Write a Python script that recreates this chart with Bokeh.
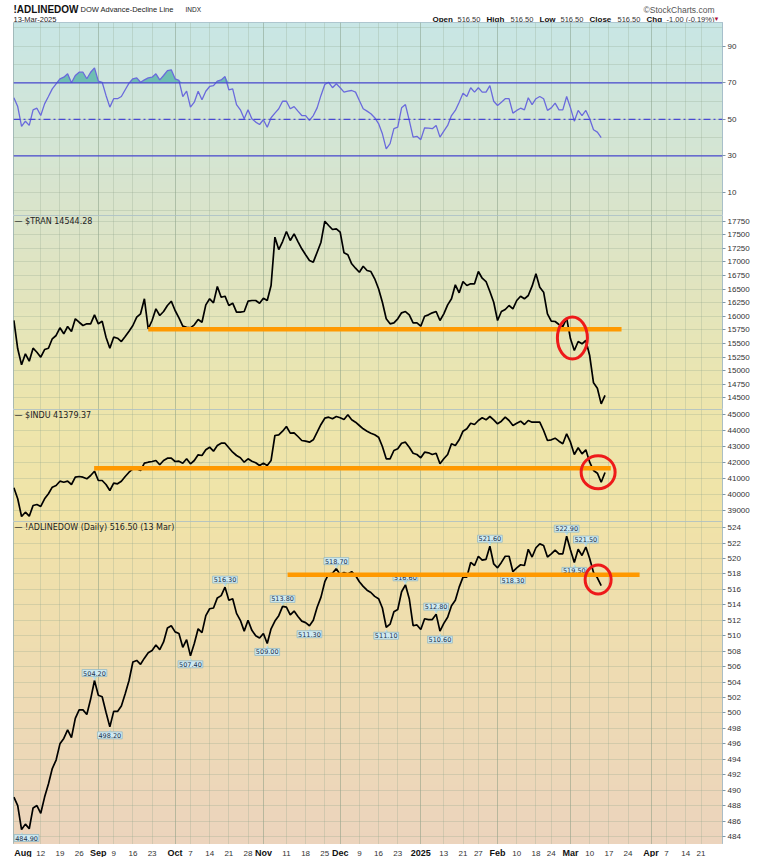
import numpy as np
import pandas as pd
from bokeh.plotting import figure
from bokeh.layouts import column
from bokeh.models import Range1d, FixedTicker, Label, ColumnDataSource, Grid, Span
from bokeh.core.properties import value
from bokeh.embed import file_html
from bokeh.resources import INLINE

# ---------------- calendar / ticks ----------------
holidays = ["2024-09-02", "2024-11-28", "2024-12-25", "2025-01-01", "2025-01-09",
            "2025-01-20", "2025-02-17", "2025-04-18"]
tick_dates = ["2024-08-01", "2024-08-12", "2024-08-19", "2024-08-26", "2024-09-03", "2024-09-09",
              "2024-09-16", "2024-09-23", "2024-10-01", "2024-10-07", "2024-10-14", "2024-10-21",
              "2024-10-28", "2024-11-01", "2024-11-11", "2024-11-18", "2024-11-25", "2024-12-02",
              "2024-12-09", "2024-12-16", "2024-12-23", "2025-01-02", "2025-01-13", "2025-01-21",
              "2025-01-27", "2025-02-03", "2025-02-10", "2025-02-18", "2025-02-24", "2025-03-03",
              "2025-03-10", "2025-03-17", "2025-03-24", "2025-04-01", "2025-04-07", "2025-04-14",
              "2025-04-21"]
tick_labels = ["Aug", "12", "19", "26", "Sep", "9", "16", "23", "Oct", "7", "14", "21", "28",
               "Nov", "11", "18", "25", "Dec", "9", "16", "23", "2025", "13", "21", "27",
               "Feb", "10", "18", "24", "Mar", "10", "17", "24", "Apr", "7", "14", "21"]
tick_is_month = [lab in ("Aug", "Sep", "Oct", "Nov", "Dec", "2025", "Feb", "Mar", "Apr") for lab in tick_labels]

# ---------------- series (daily, from 1 Aug 2024) ----------------
adl = [489.1, 488.0, 484.9, 485.6, 485.0, 487.7, 488.0, 487.0, 489.1, 490.8,
       492.8, 493.9, 496.0, 496.7, 497.8, 496.8, 499.3, 500.4, 500.4, 499.8,
       501.8, 504.2, 502.3, 502.1, 500.1, 498.2, 500.2, 500.2, 500.9, 502.5,
       504.2, 506.6, 506.8, 506.3, 507.1, 507.8, 508.1, 508.8, 508.2, 509.2,
       511.0, 511.3, 510.5, 510.3, 508.5, 509.5, 507.4, 509.0, 510.9, 510.4,
       512.6, 513.5, 513.6, 514.9, 515.2, 516.3, 514.6, 514.8, 512.9, 512.0,
       510.6, 512.0, 510.7, 510.0, 509.7, 510.3, 509.0, 510.9, 511.9, 512.6,
       513.8, 513.7, 512.7, 513.2, 512.5, 511.9, 511.7, 511.3, 512.0, 513.7,
       515.0, 517.0, 518.0, 518.1, 518.7, 517.9, 518.2, 518.0, 518.3, 517.8,
       517.0, 516.4, 515.9, 515.6, 515.1, 514.8, 513.6, 511.1, 511.5, 513.1,
       513.4, 515.7, 516.6, 514.8, 511.3, 511.4, 510.8, 512.2, 512.1, 512.1,
       512.8, 510.6, 511.6, 512.4, 513.9, 514.6, 516.3, 517.6, 517.6, 519.5,
       519.1, 520.3, 519.8, 519.9, 521.6, 519.3, 518.8, 519.5, 520.3, 520.3,
       518.3, 518.8, 519.2, 519.1, 521.2, 520.2, 521.4, 521.9, 521.7, 520.2,
       520.6, 521.1, 520.6, 520.6, 522.9, 521.1, 519.5, 521.2, 520.4, 521.5,
       520.0, 518.2, 517.5, 516.5]

tran = [15923, 15402, 15107, 15310, 15174, 15413, 15339, 15247, 15389, 15413,
        15586, 15647, 15788, 15678, 15812, 15720, 15954, 15891, 15831, 15862,
        15862, 16027, 15862, 15910, 15616, 15413, 15616, 15597, 15536, 15628,
        15726, 15831, 15983, 16046, 16322, 15770, 15923, 16138, 16015, 16088,
        16199, 16278, 16107, 15972, 15818, 15799, 15788, 15843, 15941, 15891,
        16211, 16322, 16248, 16548, 16351, 16370, 16199, 16241, 16076, 16076,
        16088, 16278, 16291, 16291, 16241, 16333, 16291, 16567, 17456, 17229,
        17376, 17560, 17395, 17518, 17376, 17242, 17132, 17027, 16996, 17180,
        17364, 17750, 17671, 17597, 17610, 17548, 17168, 17132, 16966, 16885,
        16811, 16922, 16843, 16824, 16690, 16506, 16259, 15954, 15862, 15880,
        15954, 16064, 16088, 16027, 15880, 15880, 15818, 16002, 16027, 16064,
        16088, 15923, 16046, 16211, 16322, 16579, 16432, 16640, 16567, 16598,
        16598, 16824, 16701, 16640, 16456, 16259, 15923, 16088, 16125, 16199,
        16138, 16291, 16370, 16322, 16383, 16554, 16782, 16536, 16444, 16046,
        15910, 15904, 15849, 15810, 15965, 15586, 15371, 15536, 15494, 15555,
        15278, 14776, 14677, 14389, 14544.28]

indu = [40423, 39734, 38624, 38893, 38643, 39313, 39376, 39251, 39734, 40047,
        40461, 40567, 40837, 40774, 40837, 40630, 41088, 41132, 41088, 40987,
        41194, 41464, 40881, 40881, 40630, 40254, 40712, 40674, 40837, 41132,
        41401, 41614, 41614, 41508, 41966, 42028, 42072, 42135, 41865, 42135,
        42279, 42279, 42072, 42091, 41966, 42241, 41928, 42135, 42492, 42448,
        42806, 42969, 42718, 43075, 43219, 43219, 42931, 42655, 42448, 42304,
        42028, 42241, 42091, 41991, 41821, 41966, 41821, 42135, 43702, 43746,
        43972, 44266, 43846, 43872, 43640, 43389, 43345, 43282, 43432, 43909,
        44392, 44787, 44850, 44749, 44893, 44812, 44705, 45000, 44687, 44536,
        44329, 44122, 43972, 43846, 43746, 43596, 43013, 42241, 42241, 42762,
        42868, 43219, 43282, 42969, 42592, 42511, 42304, 42655, 42618, 42511,
        42592, 41928, 42241, 42511, 43182, 43075, 43432, 43972, 44122, 44473,
        44392, 44643, 44812, 44687, 44893, 44687, 44436, 44599, 44850, 44643,
        44329, 44473, 44599, 44392, 44643, 44536, 44536, 44536, 44016, 43389,
        43432, 43533, 43345, 43182, 43809, 43282, 42511, 42931, 42555, 42806,
        42028, 41508, 41339, 40774, 41379.37]

rsi = [61.8, 57.0, 46.1, 49.0, 46.7, 55.2, 56.1, 52.1, 58.5, 62.5,
       66.7, 69.4, 72.2, 73.1, 74.9, 70.0, 74.0, 75.8, 75.8, 72.2,
       75.8, 78.2, 70.9, 70.3, 63.1, 56.7, 61.3, 61.3, 62.5, 66.2,
       69.8, 72.2, 72.7, 70.3, 71.6, 72.7, 73.1, 74.9, 71.6, 74.0,
       76.7, 77.1, 72.2, 71.3, 62.5, 65.4, 56.7, 59.4, 65.4, 60.7,
       65.4, 68.0, 68.5, 70.9, 71.6, 73.4, 66.2, 66.7, 58.1, 55.2,
       50.3, 55.2, 50.3, 48.5, 47.2, 49.8, 45.7, 50.9, 53.4, 55.8,
       59.9, 59.9, 55.8, 57.0, 54.5, 52.1, 52.1, 49.4, 52.1, 56.3,
       63.1, 69.1, 70.3, 67.3, 69.5, 67.3, 64.9, 65.4, 65.8, 64.9,
       60.3, 55.8, 54.5, 53.1, 50.9, 47.7, 42.1, 33.9, 36.7, 44.9,
       45.7, 56.3, 58.1, 49.4, 40.3, 40.7, 38.9, 45.4, 45.2, 44.9,
       46.7, 40.3, 43.6, 46.7, 52.1, 54.9, 59.4, 64.3, 62.5, 67.3,
       64.9, 67.3, 64.9, 64.9, 68.5, 59.9, 57.6, 59.4, 61.3, 61.3,
       53.4, 54.9, 56.1, 55.2, 61.8, 58.1, 61.3, 62.5, 61.3, 54.9,
       56.3, 58.9, 55.2, 55.2, 62.5, 56.3, 49.0, 54.9, 52.1, 54.9,
       50.3, 44.3, 43.0, 40.0]

rsi_levels = [70, 50, 30]

# callouts on the A/D line (day index, side)
adl_label_idx = [2, 21, 25, 46, 55, 66, 70, 77, 84, 97, 102, 110, 111, 124, 130, 144, 146, 149]
adl_label_side = ["below", "above", "below", "below", "above", "below", "above", "below", "above",
                  "below", "above", "above", "below", "above", "below", "above", "below", "above"]

# hand-drawn annotations: (start day, end day, level)
tran_level = (35.0, 158.3, 15760)
indu_level = (20.9, 155.5, 41650)
adl_level = (71.3, 163.0, 517.9)
# circles: (day, level, width px, height px)
tran_circle = (145.5, 15600, 30, 42)
indu_circle = (152.2, 41400, 34, 33)
adl_circle = (152.2, 517.3, 26, 29)

# ---------------- calendar computations ----------------
days = pd.bdate_range("2024-08-01", "2025-05-09")
days = days[~days.isin(pd.to_datetime(holidays))]
tick_idx = [int(days.get_loc(pd.Timestamp(d))) for d in tick_dates]
month_idx = [i for i, m in zip(tick_idx, tick_is_month) if m]
week_idx = [i for i, m in zip(tick_idx, tick_is_month) if not m]

xr = Range1d(-0.1, 184.6)

FW = 709
LB, RB = 13, 32
AXIS_FONT = "Liberation Sans"


def gradient(p, yr, c_top, c_bot, n=160):
    t = np.linspace(0.0, 1.0, n)[:, None]
    top = np.array(c_top, dtype=float)
    bot = np.array(c_bot, dtype=float)
    cols = bot + (top - bot) * t
    img = np.zeros((n, 1), dtype=np.uint32)
    view = img.view(dtype=np.uint8).reshape((n, 1, 4))
    view[:, 0, 0:3] = np.round(cols).astype(np.uint8)
    view[:, 0, 3] = 255
    p.image_rgba(image=[img], x=xr.start, y=yr[0], dw=xr.end - xr.start, dh=yr[1] - yr[0], level="image")


def make_fig(h, yr, yticks, ygrid_ticks):
    p = figure(frame_width=FW, frame_height=h, x_range=xr, y_range=Range1d(*yr),
               y_axis_location="right", x_axis_location=None,
               toolbar_location=None, output_backend="svg",
               min_border=0, min_border_left=LB, min_border_right=RB,
               min_border_top=0, min_border_bottom=0,
               outline_line_color="#a6bcc8", border_fill_color="white")
    p.xgrid.visible = False
    p.ygrid.visible = False
    p.add_layout(Grid(dimension=0, ticker=FixedTicker(ticks=week_idx),
                      grid_line_color="#8ea58b", grid_line_alpha=0.28))
    p.add_layout(Grid(dimension=0, ticker=FixedTicker(ticks=month_idx),
                      grid_line_color="#7a937a", grid_line_alpha=0.45))
    p.add_layout(Grid(dimension=1, ticker=FixedTicker(ticks=ygrid_ticks),
                      grid_line_color="#8ea58b", grid_line_alpha=0.28))
    ax = p.yaxis[0]
    ax.ticker = FixedTicker(ticks=yticks)
    ax.major_label_text_font_size = "8px"
    ax.major_label_text_font = AXIS_FONT
    ax.major_label_text_color = "#333333"
    ax.major_tick_out = 3
    ax.major_tick_in = 0
    ax.minor_tick_out = 0
    ax.minor_tick_in = 0
    ax.major_tick_line_color = "#7f98a8"
    ax.axis_line_color = "#9fb8c8"
    ax.axis_line_dash = "1 1"
    ax.major_label_standoff = 2
    return p


def flat_fig(h, x_range):
    p = figure(frame_width=FW, frame_height=h, x_range=x_range, y_range=Range1d(h, 0),
               x_axis_location=None, y_axis_location=None, toolbar_location=None,
               output_backend="svg", min_border=0, min_border_left=LB, min_border_right=RB,
               outline_line_color=None, border_fill_color="white", background_fill_color="white")
    p.xgrid.visible = False
    p.ygrid.visible = False
    return p


# ---------------- header (pixel coordinates of the page) ----------------
HH = 22
ph = flat_fig(HH, Range1d(LB, LB + FW))
last = adl[-1]
chg = adl[-1] - 517.5
hdr_text = ["!ADLINEDOW", "DOW Advance-Decline Line", "INDX", "13-Mar-2025", "\u00a9StockCharts.com",
            "Open", f"{last:.2f}", "High", f"{last:.2f}", "Low", f"{last:.2f}", "Close", f"{last:.2f}",
            "Chg", f"{chg:.2f} ({chg / 517.5 * 100:.2f}%)", "\u25BC"]
hdr_x = [13, 80, 185, 13, 714, 432, 457, 486, 510, 539, 560, 589, 617, 646, 666, 713]
hdr_y = [9, 9, 9, 18.5, 9, 18.5, 18.5, 18.5, 18.5, 18.5, 18.5, 18.5, 18.5, 18.5, 18.5, 18.5]
hdr_size = ["10px", "7.5px", "6.5px", "7.5px", "8.5px"] + ["8px", "7.5px"] * 5 + ["6px"]
hdr_style = ["bold", "normal", "normal", "normal", "normal"] + ["bold", "normal"] * 5 + ["normal"]
hdr_align = ["left"] * 4 + ["right"] + ["left"] * 11
hdr_color = ["#111111", "#222222", "#222222", "#222222", "#555555"] + ["#111111", "#333333"] * 5 + ["#b0103a"]
hsrc = ColumnDataSource(dict(x=hdr_x, y=hdr_y, t=hdr_text, s=hdr_size, st=hdr_style, a=hdr_align, c=hdr_color))
ph.text(x="x", y="y", text="t", source=hsrc, text_font=value(AXIS_FONT), text_font_size="s",
        text_font_style="st", text_align="a", text_color="c", text_baseline="alphabetic")

# ---------------- RSI panel ----------------
H1, H2, H3, H4 = 193, 194, 112, 323
rsi_yr = (-2.6, 103)
p1 = make_fig(H1, rsi_yr, [10, 30, 50, 70, 90], list(range(0, 101, 10)))
gradient(p1, rsi_yr, (200, 230, 229), (218, 228, 202))
rx = np.arange(len(rsi))
r = np.array(rsi)
p1.varea(x=rx, y1=np.full(len(r), 70.0), y2=np.maximum(r, 70.0), fill_color="#5db7ab", fill_alpha=0.85)
for lv in rsi_levels:
    p1.add_layout(Span(location=lv, dimension="width", line_color="#4a4ad2", line_width=1.2,
                       line_dash=("7 3 2 3" if lv == 50 else "solid")))
p1.line(rx, r, line_color="#6a6adc", line_width=1.3)

# ---------------- TRAN panel ----------------
tran_yr = (14285, 17855)
tran_ticks = list(range(14500, 17751, 250))
p2 = make_fig(H2, tran_yr, tran_ticks, tran_ticks)
gradient(p2, tran_yr, (218, 228, 202), (237, 229, 172))
tx = np.arange(len(tran))
p2.line(tx, tran, line_color="#000000", line_width=1.7)
p2.segment(x0=[tran_level[0]], y0=[tran_level[2]], x1=[tran_level[1]], y1=[tran_level[2]],
           line_color="#ff9900", line_width=4.5)
p2.ellipse(x=[tran_circle[0]], y=[tran_circle[1]], width=[tran_circle[2]], height=[tran_circle[3]],
           width_units="screen", height_units="screen", fill_alpha=0, line_color="#ee1a1a", line_width=3)
p2.add_layout(Label(x=1, y=H2 - 6, x_units="screen", y_units="screen", text=f"\u2014 $TRAN {tran[-1]:.2f}",
                    text_font="DejaVu Sans", text_font_size="8px", text_baseline="middle", text_color="#222222"))

# ---------------- INDU panel ----------------
indu_yr = (38310, 45332)
indu_ticks = list(range(39000, 45001, 1000))
p3 = make_fig(H3, indu_yr, indu_ticks, indu_ticks)
gradient(p3, indu_yr, (237, 229, 172), (240, 227, 167))
ix = np.arange(len(indu))
p3.line(ix, indu, line_color="#000000", line_width=1.7)
p3.segment(x0=[indu_level[0]], y0=[indu_level[2]], x1=[indu_level[1]], y1=[indu_level[2]],
           line_color="#ff9900", line_width=4.5)
p3.ellipse(x=[indu_circle[0]], y=[indu_circle[1]], width=[indu_circle[2]], height=[indu_circle[3]],
           width_units="screen", height_units="screen", fill_alpha=0, line_color="#ee1a1a", line_width=3)
p3.add_layout(Label(x=1, y=H3 - 6, x_units="screen", y_units="screen", text=f"\u2014 $INDU {indu[-1]:.2f}",
                    text_font="DejaVu Sans", text_font_size="8px", text_baseline="middle", text_color="#222222"))

# ---------------- A/D line panel ----------------
adl_yr = (482.96, 524.8)
adl_ticks = list(range(484, 525, 2))
p4 = make_fig(H4, adl_yr, adl_ticks, adl_ticks)
gradient(p4, adl_yr, (240, 226, 168), (236, 212, 189))

ax_ = np.arange(len(adl))
p4.line(ax_, adl, line_color="#000000", line_width=1.7)

above = [i for i, s in zip(adl_label_idx, adl_label_side) if s == "above"]
below = [i for i, s in zip(adl_label_idx, adl_label_side) if s == "below"]
lab_style = dict(text_font=value("DejaVu Sans"), text_font_size="6.5px", text_color="#1b2f4a",
                 text_align="center", background_fill_color="#cfeaf1", border_line_color="#8db5c2",
                 border_line_width=0.7, padding=1)
src_a = ColumnDataSource(dict(x=above, y=[adl[i] for i in above], t=[f"{adl[i]:.2f}" for i in above]))
src_b = ColumnDataSource(dict(x=below, y=[adl[i] for i in below], t=[f"{adl[i]:.2f}" for i in below],
                              dx=[5 if i == below[0] else 0 for i in below]))
p4.text(x="x", y="y", text=value("\u25BC"), source=src_a, text_font=value("DejaVu Sans"),
        text_font_size="6px", text_color="#b9dfe8", text_align="center", text_baseline="bottom", y_offset=0)
p4.text(x="x", y="y", text=value("\u25B2"), source=src_b, text_font=value("DejaVu Sans"),
        text_font_size="6px", text_color="#b9dfe8", text_align="center", text_baseline="top", y_offset=0)
p4.text(x="x", y="y", text="t", source=src_a, text_baseline="bottom", y_offset=-4, **lab_style)
p4.text(x="x", y="y", text="t", source=src_b, text_baseline="top", y_offset=5, x_offset="dx", **lab_style)

p4.segment(x0=[adl_level[0]], y0=[adl_level[2]], x1=[adl_level[1]], y1=[adl_level[2]],
           line_color="#ff9900", line_width=4.5)
p4.ellipse(x=[adl_circle[0]], y=[adl_circle[1]], width=[adl_circle[2]], height=[adl_circle[3]],
           width_units="screen", height_units="screen", fill_alpha=0, line_color="#ee1a1a", line_width=3)
p4.add_layout(Label(x=1, y=H4 - 6, x_units="screen", y_units="screen",
                    text=f"\u2014 !ADLINEDOW (Daily) {adl[-1]:.2f} (13 Mar)",
                    text_font="DejaVu Sans", text_font_size="8px", text_baseline="middle", text_color="#222222"))

# ---------------- date axis strip (same day scale) ----------------
HA = 13
pa = flat_fig(HA, xr)
asrc = ColumnDataSource(dict(
    x=tick_idx, y=[8.5] * len(tick_idx), t=tick_labels,
    s=["9px" if m else "8px" for m in tick_is_month],
    st=["bold" if m else "normal" for m in tick_is_month],
    c=["#111111" if m else "#333333" for m in tick_is_month],
    dx=[9 if k == 0 else 0 for k in range(len(tick_idx))]))
pa.text(x="x", y="y", text="t", source=asrc, text_font=value(AXIS_FONT), text_font_size="s",
        text_font_style="st", text_color="c", text_align="center", text_baseline="alphabetic", x_offset="dx")

layout = column(ph, p1, p2, p3, p4, pa, spacing=0)
open("out.html", "w").write(file_html(layout, INLINE))
